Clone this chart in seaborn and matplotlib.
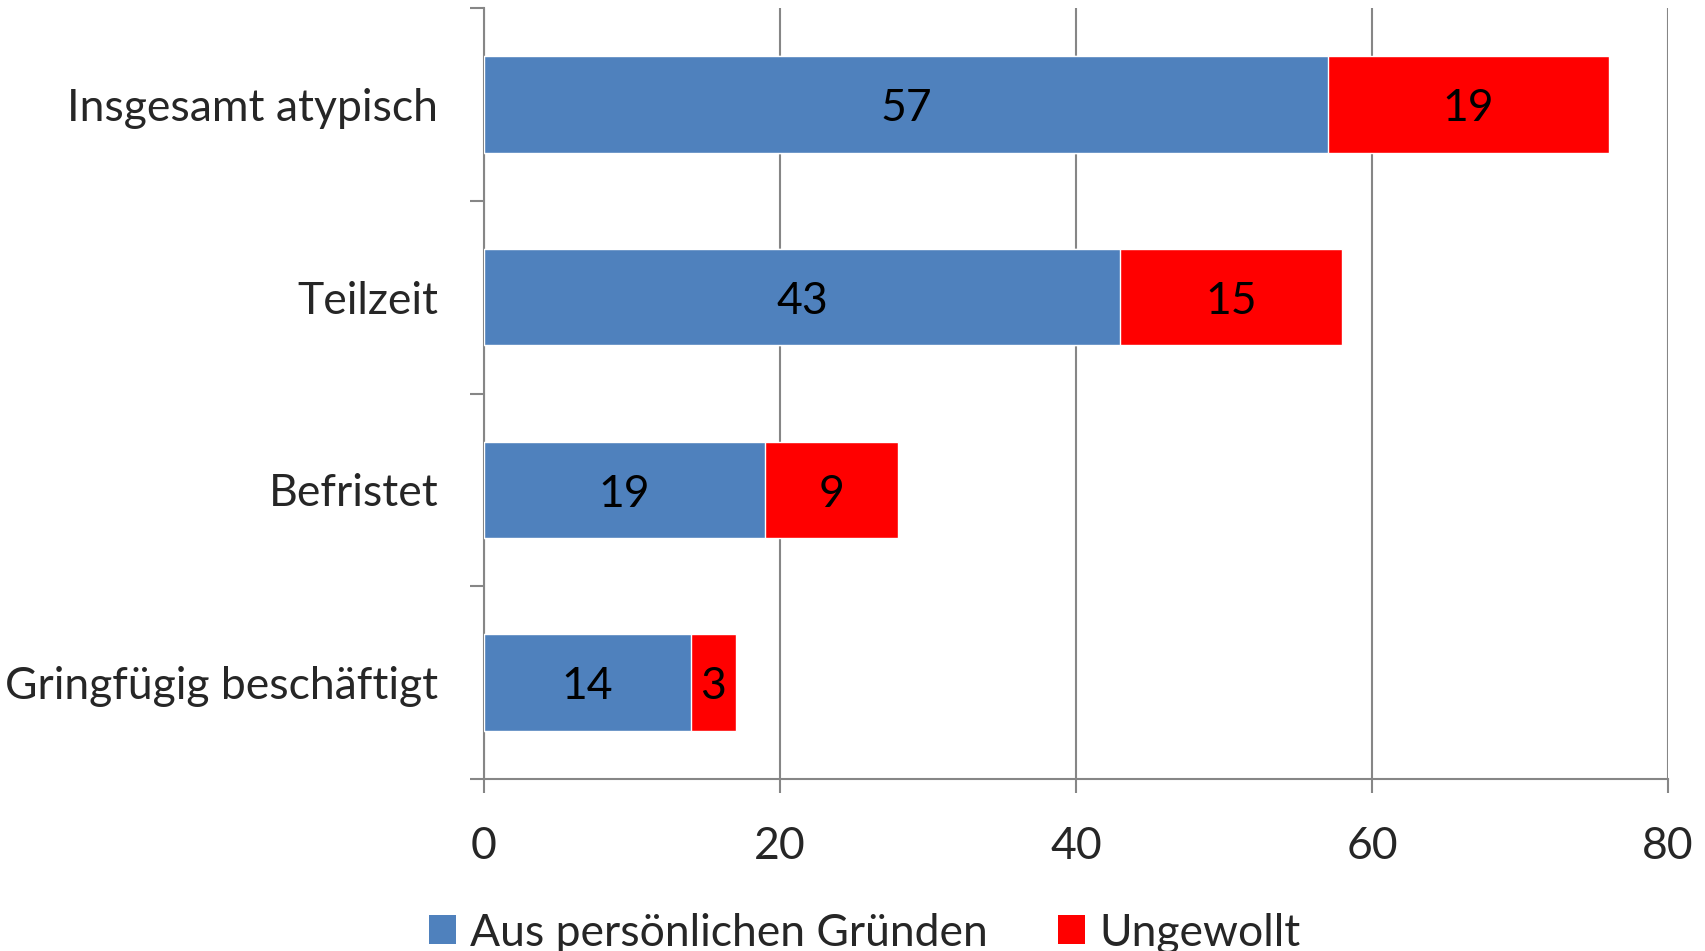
import matplotlib
matplotlib.use("Agg")
import matplotlib.pyplot as plt
import seaborn as sns
import numpy as np
import pandas as pd
from matplotlib.patches import Patch

categories = ["Insgesamt atypisch", "Teilzeit", "Befristet", "Gringfügig beschäftigt"]
persoenlich = [57, 43, 19, 14]
ungewollt = [19, 15, 9, 3]
series_names = ["Aus persönlichen Gründen", "Ungewollt"]
x_ticks = [0, 20, 40, 60, 80]

BLUE = "#4F81BD"
RED = "#FF0000"
GRID = "#868686"

sns.set_theme(style="white")
plt.rcParams["font.family"] = ["Lato", "DejaVu Sans"]
FS = 32

df = pd.DataFrame({"cat": categories, "p": persoenlich, "u": ungewollt})
df["total"] = df["p"] + df["u"]

fig = plt.figure(figsize=(17.05, 9.51), dpi=100)
ax = fig.add_axes([484/1705, 1 - 779/951, (1668 - 484)/1705, (779 - 8)/951])

sns.barplot(data=df, x="total", y="cat", color=RED, width=0.5, orient="h",
            saturation=1, ax=ax, zorder=3)
sns.barplot(data=df, x="p", y="cat", color=BLUE, width=0.5, orient="h",
            saturation=1, ax=ax, zorder=3)

for i, (p, u) in enumerate(zip(persoenlich, ungewollt)):
    ax.annotate(str(p), (p / 2, i), xytext=(0, -3), textcoords="offset points",
                ha="center", va="center", fontsize=FS, color="black", zorder=4)
    ax.annotate(str(u), (p + u / 2, i), xytext=(0, -3), textcoords="offset points",
                ha="center", va="center", fontsize=FS, color="black", zorder=4)

ax.set_xlim(0, 80)
ax.set_ylim(len(categories) - 0.5, -0.5)
ax.set_xticks(x_ticks)
ax.set_xticklabels([str(t) for t in x_ticks])
ax.set_xlabel("")
ax.set_ylabel("")

ax.xaxis.grid(True, color=GRID, linewidth=1.5, zorder=0)
ax.yaxis.grid(False)
ax.set_axisbelow(True)

for s in ["top", "right"]:
    ax.spines[s].set_visible(False)
for s in ["left", "bottom"]:
    ax.spines[s].set_color(GRID)
    ax.spines[s].set_linewidth(1.5)

ax.tick_params(axis="x", which="major", direction="out", length=10, width=1.5,
               color=GRID, labelsize=FS, pad=24, bottom=True)
ax.tick_params(axis="y", which="major", length=0, labelsize=FS, pad=33)
ax.set_yticks(np.arange(-0.5, len(categories), 1.0), minor=True)
ax.tick_params(axis="y", which="minor", direction="out", length=10, width=1.5,
               color=GRID, left=True)

handles = [Patch(facecolor=BLUE, edgecolor="none"), Patch(facecolor=RED, edgecolor="none")]
fig.legend(handles, series_names, loc="center", bbox_to_anchor=(865/1705, 18/951),
           ncol=2, frameon=False, fontsize=FS, handlelength=0.6, handleheight=0.63,
           handletextpad=0.33, columnspacing=1.58)

fig.savefig("out.png", dpi=100)
